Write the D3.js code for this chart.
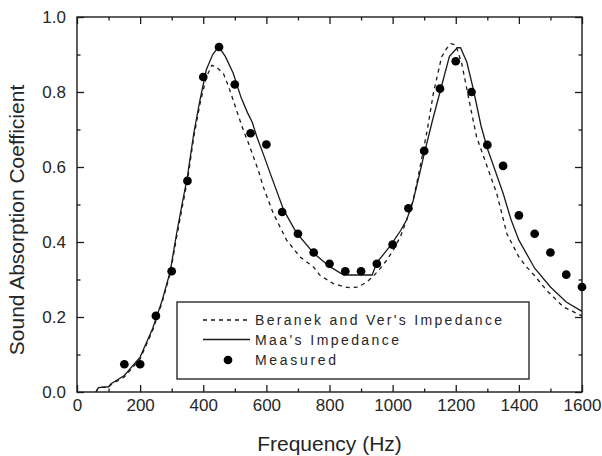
<!DOCTYPE html>
<html>
<head>
<meta charset="utf-8">
<script src="https://cdn.jsdelivr.net/npm/d3@7"></script>
<style>
  html, body { margin: 0; padding: 0; background: #fff; }
  svg { display: block; font-family: "Liberation Sans", Arial, sans-serif; }
</style>
</head>
<body>
<svg id="chart" width="602" height="456"></svg>
<script>
// ---- data ----
const measuredFreq = [150,200,250,300,350,400,450,500,550,600,650,700,750,800,850,900,950,1000,1050,1100,1150,1200,1250,1300,1350,1400,1450,1500,1550,1600];
const measuredVal  = [0.074,0.074,0.203,0.322,0.563,0.84,0.92,0.82,0.69,0.66,0.48,0.422,0.372,0.342,0.322,0.322,0.342,0.393,0.49,0.643,0.809,0.882,0.80,0.659,0.603,0.471,0.422,0.372,0.313,0.28];

const maaFreq = [60,68,100,108,150,200,240,270,295,315,335,350,370,390,410,430,445,455,470,495,520,540,555,570,590,620,655,695,750,800,845,935,950,990,1025,1045,1065,1085,1100,1125,1150,1180,1205,1215,1235,1255,1280,1300,1325,1350,1375,1400,1450,1500,1550,1600];
const maaVal  = [0.0,0.012,0.014,0.022,0.044,0.093,0.17,0.245,0.32,0.42,0.51,0.575,0.69,0.78,0.86,0.90,0.917,0.913,0.895,0.85,0.785,0.745,0.72,0.68,0.635,0.565,0.485,0.425,0.37,0.335,0.312,0.312,0.345,0.387,0.43,0.46,0.51,0.58,0.635,0.72,0.80,0.895,0.918,0.918,0.88,0.81,0.71,0.65,0.59,0.53,0.46,0.405,0.33,0.28,0.24,0.215];

const bvFreq = [60,68,100,108,150,200,240,270,295,315,335,350,370,390,410,427,440,464,480,495,510,527,545,559,575,590,622,664,707,750,770,812,850,865,890,918,940,960,980,1002,1025,1044,1065,1087,1110,1129,1155,1170,1185,1200,1219,1240,1266,1300,1330,1362,1400,1425,1450,1488,1541,1600];
const bvVal  = [0,0.012,0.013,0.02,0.04,0.088,0.165,0.24,0.315,0.41,0.5,0.565,0.68,0.77,0.84,0.871,0.868,0.849,0.815,0.778,0.74,0.698,0.66,0.627,0.59,0.547,0.476,0.405,0.36,0.333,0.311,0.289,0.28,0.278,0.28,0.293,0.31,0.329,0.35,0.378,0.415,0.458,0.51,0.6,0.70,0.796,0.893,0.915,0.929,0.925,0.876,0.787,0.68,0.60,0.529,0.422,0.36,0.333,0.31,0.271,0.227,0.203];

const xMajor = [0,200,400,600,800,1000,1200,1400,1600];
const xMinor = [100,300,500,700,900,1100,1300,1500];
const yMajor = [0,0.2,0.4,0.6,0.8,1.0];
const yMinor = [0.1,0.3,0.5,0.7,0.9];

const legendLabels = ["Beranek and Ver's Impedance", "Maa's Impedance", "Measured"];
const xTitle = "Frequency (Hz)";
const yTitle = "Sound Absorption Coefficient";

// ---- layout ----
const L = 77, R = 582, T = 17, B = 392;
const ink = "#1a1a1a", textInk = "#262626";
const svg = d3.select("#chart");
const x = d3.scaleLinear().domain([0,1600]).range([L,R]);
const y = d3.scaleLinear().domain([0,1]).range([B,T]);

// axes (inward ticks on all four sides)
function axisGroup(gen, tx, ty) {
  const g = svg.append("g").attr("transform", `translate(${tx},${ty})`).call(gen);
  g.select(".domain").remove();
  g.selectAll("line").attr("stroke", ink).attr("stroke-width", 1.3);
  return g;
}
const fmtY = d3.format(".1f");
const gxb = axisGroup(d3.axisBottom(x).tickValues(xMajor).tickSize(-7).tickPadding(7).tickFormat(d3.format("d")), 0, B);
axisGroup(d3.axisBottom(x).tickValues(xMinor).tickSize(-3.5).tickFormat(""), 0, B);
axisGroup(d3.axisTop(x).tickValues(xMajor).tickSize(-7).tickFormat(""), 0, T);
axisGroup(d3.axisTop(x).tickValues(xMinor).tickSize(-3.5).tickFormat(""), 0, T);
const gyl = axisGroup(d3.axisLeft(y).tickValues(yMajor).tickSize(-7).tickPadding(11).tickFormat(fmtY), L, 0);
axisGroup(d3.axisLeft(y).tickValues(yMinor).tickSize(-3.5).tickFormat(""), L, 0);
axisGroup(d3.axisRight(y).tickValues(yMajor).tickSize(-7).tickFormat(""), R, 0);
axisGroup(d3.axisRight(y).tickValues(yMinor).tickSize(-3.5).tickFormat(""), R, 0);

[gxb, gyl].forEach(g => g.selectAll("text")
  .attr("font-family", "Liberation Sans, Arial, sans-serif")
  .attr("font-size", 17).attr("fill", textInk));

// frame
svg.append("rect").attr("x", L).attr("y", T).attr("width", R - L).attr("height", B - T)
  .attr("fill", "none").attr("stroke", ink).attr("stroke-width", 1.4);

// curves
const line = d3.line().x(d => x(d[0])).y(d => y(d[1]));
const bvData = bvFreq.map((f,i) => [f, bvVal[i]]);
const maaData = maaFreq.map((f,i) => [f, maaVal[i]]);
svg.append("path").datum(bvData).attr("d", line).attr("fill", "none")
  .attr("stroke", ink).attr("stroke-width", 1.3).attr("stroke-dasharray", "4,4");
svg.append("path").datum(maaData).attr("d", line).attr("fill", "none")
  .attr("stroke", ink).attr("stroke-width", 1.3);

// measured markers
const sym = d3.symbol().type(d3.symbolCircle).size(60);
svg.append("g").selectAll("path").data(measuredFreq.map((f,i) => [f, measuredVal[i]]))
  .join("path").attr("d", sym)
  .attr("transform", d => `translate(${x(d[0])},${y(d[1])})`)
  .attr("fill", "#000");

// legend
const lg = svg.append("g");
lg.append("rect").attr("x", 177).attr("y", 302).attr("width", 352).attr("height", 77)
  .attr("fill", "#fff").attr("stroke", ink).attr("stroke-width", 1.3);
lg.append("line").attr("x1", 203).attr("x2", 250).attr("y1", 320).attr("y2", 320)
  .attr("stroke", ink).attr("stroke-width", 1.3).attr("stroke-dasharray", "4,4");
lg.append("line").attr("x1", 203).attr("x2", 250).attr("y1", 339.5).attr("y2", 339.5)
  .attr("stroke", ink).attr("stroke-width", 1.3);
lg.append("path").attr("d", sym).attr("transform", "translate(228,360)").attr("fill", "#000");
const lens = [247, 144, 81];
legendLabels.forEach((t, i) => {
  lg.append("text").attr("x", 255).attr("y", 325 + i * 20)
    .attr("font-size", 14).attr("fill", textInk)
    .attr("textLength", lens[i]).attr("lengthAdjust", "spacing")
    .text(t);
});

// axis titles
svg.append("text").attr("x", (L + R) / 2).attr("y", 451).attr("text-anchor", "middle")
  .attr("font-size", 21).attr("fill", textInk).text(xTitle);
svg.append("text").attr("transform", `translate(24,220) rotate(-90)`).attr("text-anchor", "middle")
  .attr("font-size", 21).attr("fill", textInk).text(yTitle);
</script>
</body>
</html>
